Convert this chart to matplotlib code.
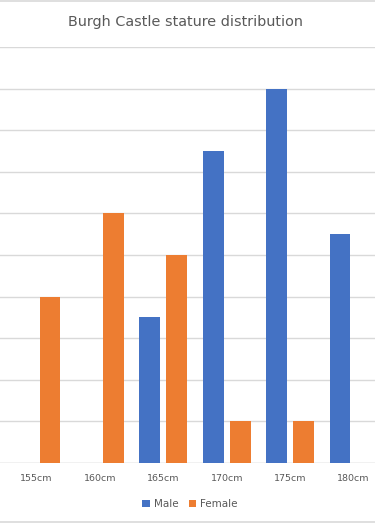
import numpy as np
import matplotlib.pyplot as plt

categories = ["155cm", "160cm", "165cm", "170cm", "175cm", "180cm"]
male = [0, 0, 3.5, 7.5, 9, 5.5]
female = [4, 6, 5, 1, 1, 0]

W, H = 375, 523
fig = plt.figure(figsize=(W / 100, H / 100), dpi=100)

# the chart is cropped at both sides, so the plot area fills the width
top_px, base_px = 47, 463
ax = fig.add_axes([0, 1 - base_px / H, 1, (base_px - top_px) / H])

x = np.arange(len(categories))
bw = 0.33
off = 0.213
ax.bar(x - off, male, bw, color="#4472C4", label="Male", zorder=3)
ax.bar(x + off, female, bw, color="#ED7D31", label="Female", zorder=3)

step = 63.4  # px per category
ax.set_xlim(-36.5 / step, (W - 36.5) / step)
ax.set_ylim(0, 10)
ax.set_yticks(np.arange(0, 11, 1))
ax.yaxis.grid(True, color="#D9D9D9", linewidth=1)
ax.set_axisbelow(True)
ax.tick_params(axis="y", left=False, labelleft=False)
ax.tick_params(axis="x", length=0, pad=8, labelsize=6.8, labelcolor="#595959")
ax.set_xticks(x)
ax.set_xticklabels(categories)
for s in ax.spines.values():
    s.set_visible(False)
ax.axhline(0, color="#D9D9D9", linewidth=1, zorder=2)

# frame lines of the surrounding chart area
for ypx in (0.8, 521.5):
    fig.add_artist(plt.Line2D([0, 1], [1 - ypx / H] * 2, color="#D9D9D9", linewidth=1.2))

fig.text(186 / W, 1 - 22 / H, "Burgh Castle stature distribution",
         ha="center", va="center", fontsize=10.4, color="#595959")

fig.legend(loc="center", bbox_to_anchor=(190 / W, 1 - 504 / H), ncol=2, frameon=False,
           fontsize=7.5, labelcolor="#595959", handlelength=0.7, handleheight=0.7,
           handletextpad=0.4, columnspacing=1.0)

fig.savefig("out.png", dpi=100)
